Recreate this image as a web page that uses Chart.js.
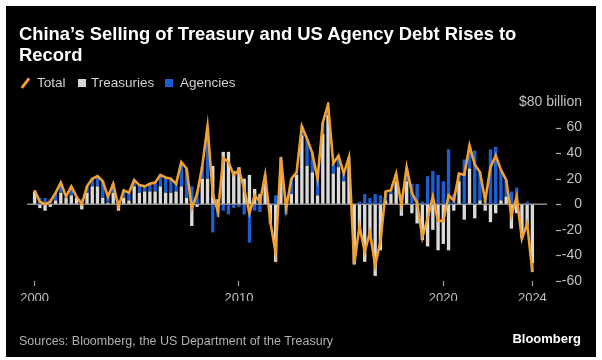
<!DOCTYPE html>
<html><head><meta charset="utf-8">
<script src="https://cdn.jsdelivr.net/npm/chart.js@4.4.1/dist/chart.umd.min.js"></script>
<style>
html,body{margin:0;padding:0;background:#fff;width:602px;height:360px;overflow:hidden;font-family:"Liberation Sans",Arial,sans-serif;}
#panel{position:absolute;left:6px;top:6px;width:590px;height:351px;background:#000;}
#c{position:absolute;left:0;top:0;}
#title{position:absolute;left:19px;top:23px;color:#fff;font-family:"Liberation Sans",Arial,sans-serif;font-weight:bold;font-size:18.4px;line-height:21px;white-space:nowrap;}
.lt{position:absolute;top:75px;font-size:13.5px;line-height:16px;color:#d0d0d0;white-space:nowrap;}
.sq{position:absolute;top:79px;width:8px;height:8px;}
#slash{position:absolute;left:24px;top:77px;width:2.5px;height:12px;background:#f0a030;transform:rotate(38deg);}
#src{position:absolute;left:19px;top:334px;font-size:12.5px;line-height:14px;color:#b0b0b0;white-space:nowrap;}
#brand{position:absolute;right:21px;top:331px;font-size:13px;line-height:15px;font-weight:bold;color:#fff;}
</style></head><body>
<div id="panel"></div>
<canvas id="c" width="602" height="360"></canvas>
<div id="title">China’s Selling of Treasury and US Agency Debt Rises to<br>Record</div>
<div id="slash"></div><div class="lt" style="left:37px">Total</div>
<div class="sq" style="left:78px;background:#d6d6d6"></div><div class="lt" style="left:91px">Treasuries</div>
<div class="sq" style="left:165px;background:#1d5fd1"></div><div class="lt" style="left:180px">Agencies</div>
<div id="src">Sources: Bloomberg, the US Department of the Treasury</div>
<div id="brand">Bloomberg</div>
<script>
// Quarterly categories 2000 Q1 .. 2023 Q4
const categories = [];
for (let y = 2000; y <= 2023; y++) for (let q = 1; q <= 4; q++) categories.push(y + ' Q' + q);

// $ billion
const treasuries = [
  10, -3, -5, -2, 3, 9, 5, 7, 5, -4,
  9, 14, 14, 5, 1, 9, -5, 5, 3, 14,
  9, 10, 10, 10, 14, 9, 9, 10, 14, 5,
  -17, -2, 20, 20, 30, 4, 41, 41, 26, 29,
  20, 23, 12, 8, 16, -15, -45, 30, 5, 8,
  23, 54, 30, 25, 7, 55, 70, 24, 29, 18,
  30, -47, -19, -45, -27, -56, -36, 3, 8, 18,
  -9, 18, -7, -15, -28, -33, -20, -36, -31, -36,
  -5, 18, -12, 28, -11, 3, -5, -14, -7, 3,
  6, -19, -7, -26, -17, -46
];
const agencies = [
  1, 5, 5, 4, 6, 8, 1, 7, 1, 4,
  5, 6, 8, 13, 5, 7, 3, 6, 6, 5,
  6, 4, 6, 7, 9, 12, 11, 6, 19, 23,
  14, 10, 10, 41, -22, -10, -5, -8, -3, -2,
  -8, -30, -5, -6, 7, 1, 7, 7, -8, 12,
  2, 7, 21, 15, 13, 9, 8, 8, 9, 6,
  7, 0, 2, 8, 5, 8, 7, 7, 3, 6,
  8, 11, 16, 16, 2, 22, 26, 23, 18, 43,
  8, 6, 35, 18, 42, 22, 8, 43, 45, 24,
  13, 10, 13, -1, 2, -7
];
const total = [
  11, 2, 0, 2, 9, 17, 6, 14, 6, 0,
  14, 20, 22, 18, 6, 16, -2, 11, 9, 19,
  15, 14, 16, 17, 23, 21, 20, 16, 33, 28,
  -3, 8, 30, 61, 8, -6, 36, 33, 23, 27,
  12, -7, 7, 2, 23, -14, -38, 37, -3, 20,
  25, 61, 51, 40, 20, 64, 78, 32, 38, 24,
  37, -47, -17, -37, -22, -48, -29, 10, 11, 24,
  -1, 29, 9, 1, -26, -11, 6, -13, -13, 7,
  3, 24, 23, 46, 31, 25, 3, 29, 38, 27,
  19, -9, 6, -27, -15, -53
];
const xTickLabels = ['2000', '2010', '2020', '2024'];
const xTickAt = [0, 39, 78, 95];
const yMin = -60, yMax = 80, yStep = 20;

const deco = {
  id: 'deco',
  beforeDatasetsDraw(chart) {
    const {ctx, chartArea, scales: {y}} = chart;
    const py = y.getPixelForValue(0);
    ctx.save();
    ctx.strokeStyle = '#8c8c8c'; ctx.lineWidth = 1.5;
    ctx.beginPath(); ctx.moveTo(chartArea.left - 5, py); ctx.lineTo(chartArea.right + 12, py); ctx.stroke();
    ctx.restore();
  },
  afterDraw(chart) {
    const {ctx, scales: {y}} = chart;
    ctx.save();
    ctx.strokeStyle = '#b0b0b0'; ctx.lineWidth = 1.2;
    y.ticks.forEach(t => {
      if (t.value === yMax) return;
      const py = Math.round(y.getPixelForValue(t.value)) + 0.5;
      ctx.beginPath(); ctx.moveTo(y.left + 21, py); ctx.lineTo(y.left + 26, py); ctx.stroke();
    });
    ctx.restore();
  }
};

Chart.defaults.font.family = '"Liberation Sans", Arial, sans-serif';
new Chart(document.getElementById('c'), {
  type: 'bar',
  data: {
    labels: categories,
    datasets: [
      {type: 'line', label: 'Total', data: total, borderColor: '#f0a030', borderWidth: 2.6,
       pointRadius: 0, tension: 0, order: 0, stack: 'line', borderJoinStyle: 'miter'},
      {label: 'Treasuries', data: treasuries, backgroundColor: '#dadada', order: 1, stack: 'bars',
       barPercentage: 0.64, categoryPercentage: 1},
      {label: 'Agencies', data: agencies, backgroundColor: '#1d5fd1', order: 1, stack: 'bars',
       barPercentage: 0.64, categoryPercentage: 1}
    ]
  },
  options: {
    responsive: false, animation: false, devicePixelRatio: 1,
    layout: {padding: {left: 32, right: 20, top: 102, bottom: 59}},
    plugins: {legend: {display: false}, tooltip: {enabled: false}},
    scales: {
      x: {
        stacked: true,
        grid: {offset: false, drawOnChartArea: false, drawTicks: true, tickLength: 5, tickColor: '#a0a0a0', tickWidth: 1.2},
        border: {display: false},
        afterBuildTicks(scale) { scale.ticks = scale.ticks.filter(t => xTickAt.includes(t.value)); },
        afterFit(scale) { scale.height = 20; },
        ticks: {autoSkip: false, maxRotation: 0, minRotation: 0, color: '#c0c0c0', font: {size: 13}, padding: 5,
          callback: v => xTickLabels[xTickAt.indexOf(v)]}
      },
      y: {
        position: 'right', stacked: true, min: yMin, max: yMax,
        grid: {drawOnChartArea: false, drawTicks: false},
        border: {display: false},
        afterFit(scale) { scale.width = 47; },
        ticks: {stepSize: yStep, mirror: true, crossAlign: 'near', padding: 47, color: '#c0c0c0', font: {size: 14},
          callback: v => v === yMax ? '$' + v + ' billion' : v}
      }
    }
  },
  plugins: [deco]
});
</script>
</body></html>
